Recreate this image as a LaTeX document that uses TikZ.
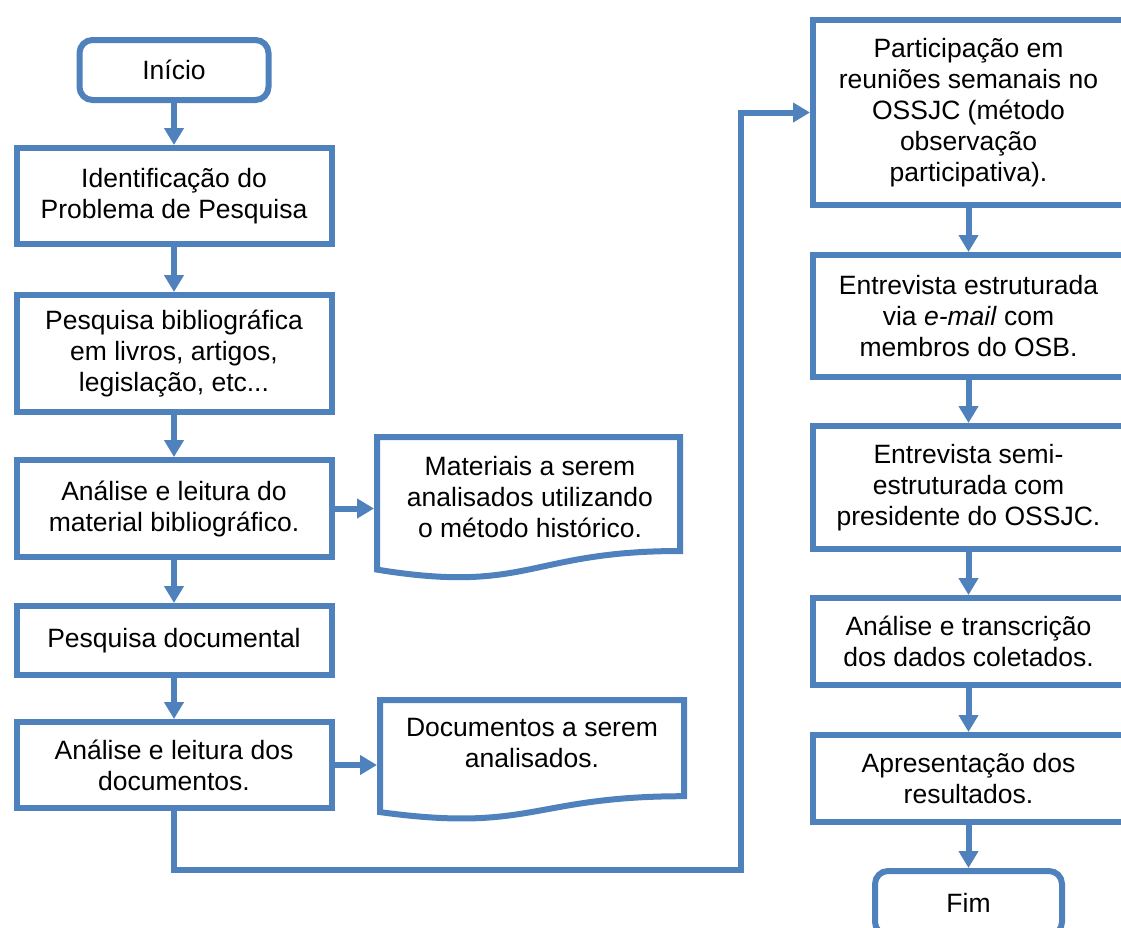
\documentclass[tikz,border=0pt]{standalone}
\usepackage{fontspec}
\setmainfont{Liberation Sans}
\usetikzlibrary{arrows.meta}
\definecolor{flowblue}{RGB}{79,129,189}
\begin{document}
\begin{tikzpicture}[x=1pt,y=-1pt,
  txt/.style={align=center, inner sep=0pt, font=\fontsize{26.5}{31}\selectfont},
  box/.style={txt, draw=flowblue, line width=6pt, rectangle, fill=white, line join=miter},
  term/.style={box, rounded corners=13pt},
  frame/.style={rectangle, inner sep=0pt, outer sep=3pt},
  docline/.style={draw=flowblue, line width=6pt, line join=miter, fill=white},
  conn/.style={draw=flowblue, line width=6pt, line join=miter, -{Triangle[width=19pt,length=17pt]}},
  lcol/.style={box, minimum width=315pt},
  rcol/.style={box, minimum width=311pt}
  ]
\useasboundingbox (0,0) rectangle (1121,927);
\clip (0,0) rectangle (1121,927);

% left column
\node[term, minimum width=189pt, minimum height=60pt] (ini) at (174,70) {Início};
\node[lcol, minimum height=96pt] (idp) at (174,196) {Identificação do\\Problema de Pesquisa};
\node[lcol, minimum height=117pt] (pbib) at (174,353.5) {Pesquisa bibliográfica\\em livros, artigos,\\legislação, etc...};
\node[lcol, minimum height=97pt] (anm) at (174,508.5) {Análise e leitura do\\material bibliográfico.};
\node[lcol, minimum height=69pt] (pdoc) at (174,640.5) {Pesquisa documental};
\node[lcol, minimum height=86pt] (adoc) at (174,765) {Análise e leitura dos\\documentos.};

% document shapes
\node[frame, minimum width=303pt, minimum height=142pt] (mat) at (528.5,508) {};
\draw[docline] (377,437) -- (680,437) -- (680,551)
  .. controls (528.5,551) and (528.5,594.3) .. (377,569.6) -- cycle;
\node[txt] (matt) at (530,497) {Materiais a serem\\analisados utilizando\\o método histórico.};

\node[frame, minimum width=304pt, minimum height=120pt] (doc) at (532,760) {};
\draw[docline] (380,700) -- (684,700) -- (684,796.2)
  .. controls (532,796.2) and (532,832.9) .. (380,812.1) -- cycle;
\node[txt] (doct) at (532,743) {Documentos a serem\\analisados.};

% right column
\node[rcol, minimum height=185pt] (part) at (968.5,112.5) {Participação em\\reuniões semanais no\\OSSJC (método\\observação\\participativa).};
\node[rcol, minimum height=122pt] (ees) at (968.5,316) {Entrevista estruturada\\via \textit{e-mail} com\\membros do OSB.};
\node[rcol, minimum height=123pt] (esemi) at (968.5,487.5) {Entrevista semi-\\estruturada com\\presidente do OSSJC.};
\node[rcol, minimum height=87pt] (atr) at (968.5,641.5) {Análise e transcrição\\dos dados coletados.};
\node[rcol, minimum height=87pt] (apr) at (968.5,778.5) {Apresentação dos\\resultados.};
\node[term, minimum width=187pt, minimum height=64pt] (fim) at (968.5,903) {Fim};

% connectors
\draw[conn] (ini.south) -- (idp.north);
\draw[conn] (idp.south) -- (pbib.north);
\draw[conn] (pbib.south) -- (anm.north);
\draw[conn] (anm.south) -- (pdoc.north);
\draw[conn] (pdoc.south) -- (adoc.north);
\draw[conn] (anm.east) -- (anm.east -| mat.west);
\draw[conn] (adoc.east) -- (adoc.east -| doc.west);
\coordinate (c1) at (741,870);
\draw[conn] (adoc.south) |- (c1) |- (part.west);
\draw[conn] (part.south) -- (ees.north);
\draw[conn] (ees.south) -- (esemi.north);
\draw[conn] (esemi.south) -- (atr.north);
\draw[conn] (atr.south) -- (apr.north);
\draw[conn] (apr.south) -- (fim.north);
\end{tikzpicture}
\end{document}
